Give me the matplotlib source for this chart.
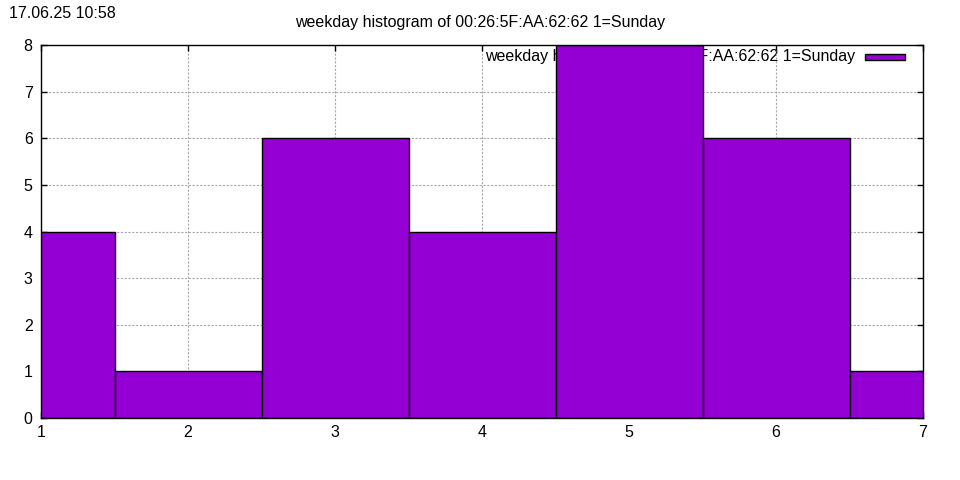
import matplotlib.pyplot as plt
from matplotlib.patches import Rectangle

plt.rcParams['font.family'] = ['Liberation Sans', 'DejaVu Sans']

weekdays = [1, 2, 3, 4, 5, 6, 7]
counts = [4, 1, 6, 4, 8, 6, 1]
title = "weekday histogram of 00:26:5F:AA:62:62 1=Sunday"
stamp = "17.06.25 10:58"
color = "#9400D3"
fs = 11.5

fig = plt.figure(figsize=(9.6, 4.8), dpi=100)
ax = fig.add_axes([41 / 960, 62 / 480, 882 / 960, 373 / 480])

ax.bar(weekdays, counts, width=1.0, color=color, edgecolor="black",
       linewidth=1, zorder=3)

ax.set_xlim(1, 7)
ax.set_ylim(0, 8)
ax.set_xticks(weekdays)
ax.set_yticks(range(0, 9))
ax.grid(True, color="#a8a8a8", linestyle=(0, (2, 1.4)), linewidth=0.8, zorder=0)
ax.tick_params(direction="in", length=4, width=1, top=True, right=True,
               labelsize=fs)
ax.tick_params(axis="x", pad=5)
ax.tick_params(axis="y", pad=6)
for s in ax.spines.values():
    s.set_linewidth(1)
    s.set_zorder(5)

# key, drawn under the bars like gnuplot does
ax.text((855 - 41) / 882, 1 - (57 - 45) / 373, title,
        transform=ax.transAxes, ha="right", va="center", fontsize=fs,
        zorder=1)
ax.add_patch(Rectangle(((865 - 41) / 882, 1 - (60 - 45) / 373),
                       40 / 882, 6 / 373, transform=ax.transAxes,
                       facecolor=color, edgecolor="black", linewidth=1,
                       zorder=1, clip_on=False))

fig.text(480 / 960, 1 - 23 / 480, title, ha="center", va="center",
         fontsize=fs)
fig.text(9 / 960, 1 - 14 / 480, stamp, ha="left", va="center",
         fontsize=fs)

fig.savefig("out.png", dpi=100)
